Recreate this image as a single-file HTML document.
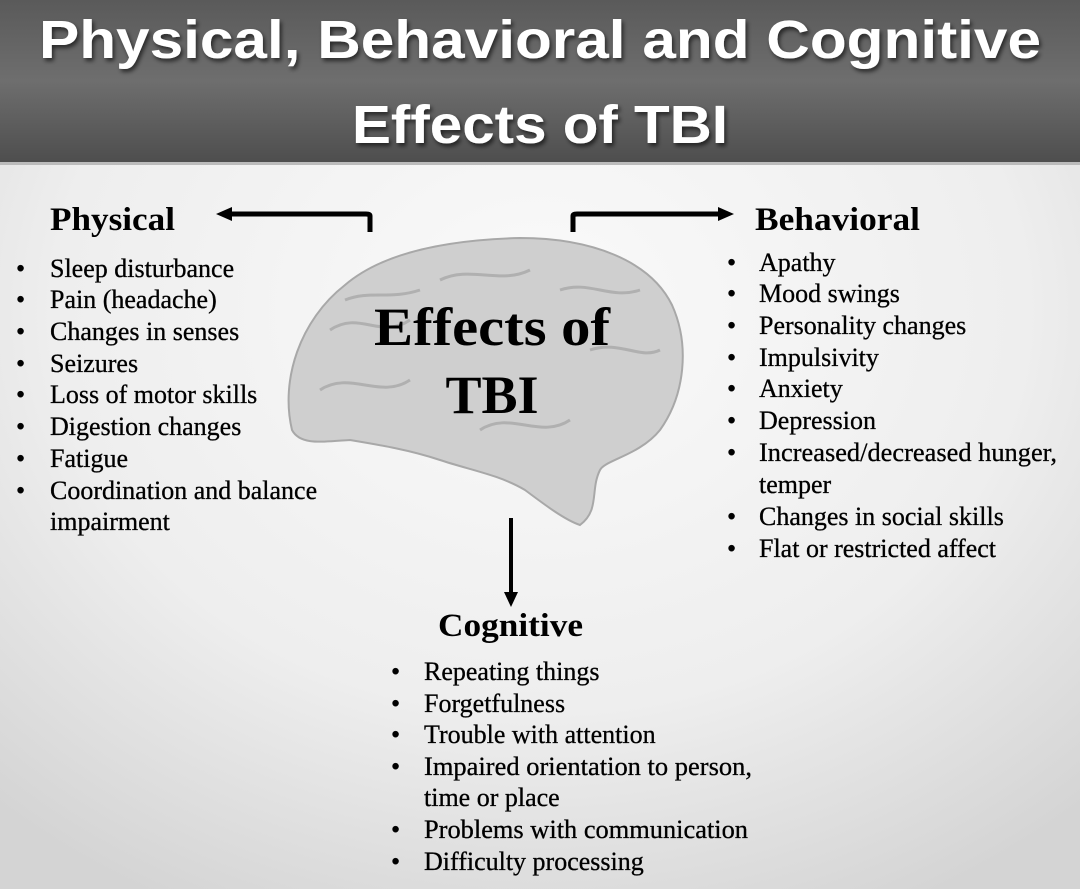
<!DOCTYPE html>
<html><head><meta charset="utf-8"><style>
html,body{margin:0;padding:0;width:1080px;height:889px;overflow:hidden}
svg{display:block}
.h{font-family:"Liberation Sans",sans-serif;font-weight:bold;fill:#fff}
.t{font-family:"Liberation Serif",serif;font-size:26px;fill:#000;stroke:#000;stroke-width:0.3}
.b{font-family:"Liberation Serif",serif;font-weight:bold;fill:#000}
</style></head><body>
<svg width="1080" height="889" viewBox="0 0 1080 889">
<defs>
<linearGradient id="hd" x1="0" y1="0" x2="0" y2="1"><stop offset="0" stop-color="#5a5a5a"/><stop offset="0.5" stop-color="#6e6e6e"/><stop offset="1" stop-color="#4e4e4e"/></linearGradient>
<radialGradient id="bg" cx="0.5" cy="0.35" r="0.75"><stop offset="0" stop-color="#fafafa"/><stop offset="0.6" stop-color="#eeeeee"/><stop offset="1" stop-color="#d4d4d4"/></radialGradient>
<filter id="sh"><feDropShadow dx="2" dy="3" stdDeviation="2" flood-color="#000" flood-opacity="0.6"/></filter>
</defs>
<rect width="1080" height="889" fill="url(#bg)"/>
<rect width="1080" height="162" fill="url(#hd)"/>
<rect y="162" width="1080" height="3" fill="#bbb"/>
<g filter="url(#sh)">
<text class="h" x="540" y="58" font-size="54" text-anchor="middle" textLength="1002" lengthAdjust="spacingAndGlyphs">Physical, Behavioral and Cognitive</text>
<text class="h" x="540" y="143" font-size="54" text-anchor="middle" textLength="376" lengthAdjust="spacingAndGlyphs">Effects of TBI</text>
</g>
<!-- brain -->
<path d="M292,430 C280,380 300,320 345,285 C380,255 440,240 520,238 C590,238 650,260 672,305 C690,345 685,395 660,430 C640,455 605,460 600,470 C590,490 600,510 580,525 C565,520 545,505 525,490 C500,475 470,470 440,460 C410,450 380,445 350,440 C320,442 300,445 292,430 Z" fill="#cfcfcf" stroke="#a8a8a8" stroke-width="2"/>
<path d="M330,330 C360,310 380,340 410,320 M560,290 C590,280 610,300 640,290 M320,390 C350,370 380,400 410,380 M480,430 C510,410 540,440 570,420 M590,350 C620,340 640,360 660,350 M440,280 C470,265 500,285 530,270 M345,300 C370,290 390,300 420,290" stroke="#b0b0b0" stroke-width="3" fill="none"/>
<text class="b" x="492" y="345" style="font-size:54px" text-anchor="middle" textLength="236" lengthAdjust="spacingAndGlyphs">Effects of</text>
<text class="b" x="492" y="413" style="font-size:54px" text-anchor="middle">TBI</text>
<!-- arrows -->
<path d="M370,232 V216 Q370,214 366,214 H230" stroke="#000" stroke-width="5" fill="none"/>
<polygon points="216,214 232,207 232,221" fill="#000"/>
<path d="M573,232 V216 Q573,214 577,214 H720" stroke="#000" stroke-width="5" fill="none"/>
<polygon points="734,214 718,207 718,221" fill="#000"/>
<line x1="511" y1="518" x2="511" y2="595" stroke="#000" stroke-width="4"/>
<polygon points="511,607 504,592 518,592" fill="#000"/>
<!-- Physical -->
<text class="b" x="50" y="230" style="font-size:33px" textLength="125" lengthAdjust="spacingAndGlyphs">Physical</text>
<g class="t">
<text x="16" y="277">•</text><text x="50" y="277">Sleep disturbance</text>
<text x="16" y="308">•</text><text x="50" y="308">Pain (headache)</text>
<text x="16" y="340">•</text><text x="50" y="340">Changes in senses</text>
<text x="16" y="372">•</text><text x="50" y="372">Seizures</text>
<text x="16" y="403">•</text><text x="50" y="403">Loss of motor skills</text>
<text x="16" y="435">•</text><text x="50" y="435">Digestion changes</text>
<text x="16" y="467">•</text><text x="50" y="467">Fatigue</text>
<text x="16" y="499">•</text><text x="50" y="499">Coordination and balance</text>
<text x="50" y="530">impairment</text>
</g>
<!-- Behavioral -->
<text class="b" x="755" y="230" style="font-size:33px" textLength="165" lengthAdjust="spacingAndGlyphs">Behavioral</text>
<g class="t">
<text x="727" y="271">•</text><text x="759" y="271">Apathy</text>
<text x="727" y="302">•</text><text x="759" y="302">Mood swings</text>
<text x="727" y="334">•</text><text x="759" y="334">Personality changes</text>
<text x="727" y="366">•</text><text x="759" y="366">Impulsivity</text>
<text x="727" y="397">•</text><text x="759" y="397">Anxiety</text>
<text x="727" y="429">•</text><text x="759" y="429">Depression</text>
<text x="727" y="461">•</text><text x="759" y="461" textLength="298" lengthAdjust="spacingAndGlyphs">Increased/decreased hunger,</text>
<text x="759" y="493">temper</text>
<text x="727" y="525">•</text><text x="759" y="525">Changes in social skills</text>
<text x="727" y="557">•</text><text x="759" y="557">Flat or restricted affect</text>
</g>
<!-- Cognitive -->
<text class="b" x="438" y="636" style="font-size:33px" textLength="145" lengthAdjust="spacingAndGlyphs">Cognitive</text>
<g class="t">
<text x="391" y="680">•</text><text x="424" y="680">Repeating things</text>
<text x="391" y="712">•</text><text x="424" y="712">Forgetfulness</text>
<text x="391" y="743">•</text><text x="424" y="743">Trouble with attention</text>
<text x="391" y="775">•</text><text x="424" y="775" textLength="328" lengthAdjust="spacingAndGlyphs">Impaired orientation to person,</text>
<text x="424" y="806">time or place</text>
<text x="391" y="838">•</text><text x="424" y="838" textLength="324" lengthAdjust="spacingAndGlyphs">Problems with communication</text>
<text x="391" y="870">•</text><text x="424" y="870">Difficulty processing</text>
</g>
</svg>
</body></html>
